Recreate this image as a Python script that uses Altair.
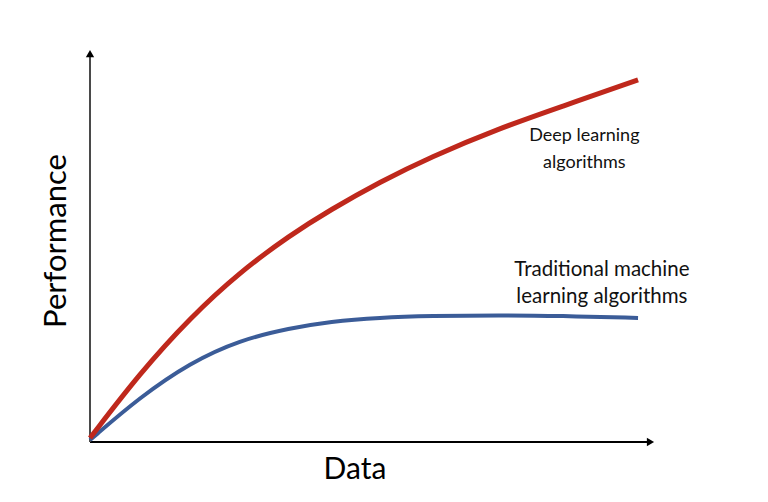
import altair as alt
import pandas as pd

# Data (x and y in arbitrary 0-100 units)
x_vals = [0, 8.85, 17.7, 26.5, 35.4, 42.5, 51.3, 60.2, 72.6, 83.2, 97.0]
deep_vals = [1.0, 17.5, 31.5, 43.1, 52.5, 58.9, 66.0, 72.3, 79.7, 85.0, 91.9]
trad_vals = [0.5, 11.4, 20.1, 25.9, 28.9, 30.6, 31.6, 32.0, 32.2, 32.0, 31.5]
series_names = ["Deep learning algorithms", "Traditional machine learning algorithms"]
colors = ["#BF281C", "#3B5C98"]

rows = []
for xv, d, t in zip(x_vals, deep_vals, trad_vals):
    rows.append({"x": xv, "y": d, "s": series_names[0]})
    rows.append({"x": xv, "y": t, "s": series_names[1]})
df = pd.DataFrame(rows)

xs = alt.Scale(domain=[0, 100], nice=False, zero=False)
ys = alt.Scale(domain=[0, 100], nice=False, zero=False)

FONT = "Lato"

red = alt.Chart(df[df.s == series_names[0]]).mark_line(
    color=colors[0], strokeWidth=5, interpolate="basis", strokeCap="butt"
).encode(x=alt.X("x:Q", scale=xs, axis=None), y=alt.Y("y:Q", scale=ys, axis=None))

blue = alt.Chart(df[df.s == series_names[1]]).mark_line(
    color=colors[1], strokeWidth=4, interpolate="basis", strokeCap="butt"
).encode(x=alt.X("x:Q", scale=xs, axis=None), y=alt.Y("y:Q", scale=ys, axis=None))

# axes drawn as rules with arrowheads
xaxis = alt.Chart(pd.DataFrame({"x": [0], "x2": [99], "y": [0]})).mark_rule(
    color="#000000", strokeWidth=2
).encode(x=alt.X("x:Q", scale=xs, axis=None), x2="x2:Q", y=alt.Y("y:Q", scale=ys, axis=None))
yaxis = alt.Chart(pd.DataFrame({"x": [0], "y": [0], "y2": [98]})).mark_rule(
    color="#4a4a4a", strokeWidth=2
).encode(x=alt.X("x:Q", scale=xs, axis=None), y=alt.Y("y:Q", scale=ys, axis=None), y2="y2:Q")
xarrow = alt.Chart(pd.DataFrame({"x": [99.2], "y": [0]})).mark_point(
    shape="triangle-right", filled=True, color="#000000", size=70, opacity=1
).encode(x=alt.X("x:Q", scale=xs, axis=None), y=alt.Y("y:Q", scale=ys, axis=None))
yarrow = alt.Chart(pd.DataFrame({"x": [0], "y": [98.6]})).mark_point(
    shape="triangle-up", filled=True, color="#000000", size=70, opacity=1
).encode(x=alt.X("x:Q", scale=xs, axis=None), y=alt.Y("y:Q", scale=ys, axis=None))

deep_label = alt.Chart(pd.DataFrame({"x": [87.5], "y": [77.7], "t": [["Deep learning", "algorithms"]]})).mark_text(
    font=FONT, fontSize=18, color="#111111", align="center", baseline="middle", lineHeight=27
).encode(x=alt.X("x:Q", scale=xs, axis=None), y=alt.Y("y:Q", scale=ys, axis=None), text="t")
trad_label = alt.Chart(pd.DataFrame({"x": [90.6], "y": [43.6], "t": [["Traditional machine", "learning algorithms"]]})).mark_text(
    font=FONT, fontSize=20.5, color="#111111", align="center", baseline="middle", lineHeight=27
).encode(x=alt.X("x:Q", scale=xs, axis=None), y=alt.Y("y:Q", scale=ys, axis=None), text="t")

xtitle = alt.Chart(pd.DataFrame({"t": ["Data"]})).mark_text(
    font=FONT, fontSize=30, color="#000000", align="center", baseline="middle"
).encode(x=alt.value(265), y=alt.value(422), text="t:N")
ytitle = alt.Chart(pd.DataFrame({"t": ["Performance"]})).mark_text(
    font=FONT, fontSize=31, color="#000000", align="center", baseline="middle", angle=270
).encode(x=alt.value(-33), y=alt.value(193), text="t:N")

chart = alt.layer(xaxis, yaxis, xarrow, yarrow, blue, red, deep_label, trad_label, xtitle, ytitle).properties(
    width=565, height=394,
    autosize=alt.AutoSizeParams(type="none"),
    padding={"left": 82, "top": 40, "right": 105, "bottom": 52},
).configure_view(stroke=None)

chart.save("out.html", embed_options={"renderer": "svg", "actions": False})
